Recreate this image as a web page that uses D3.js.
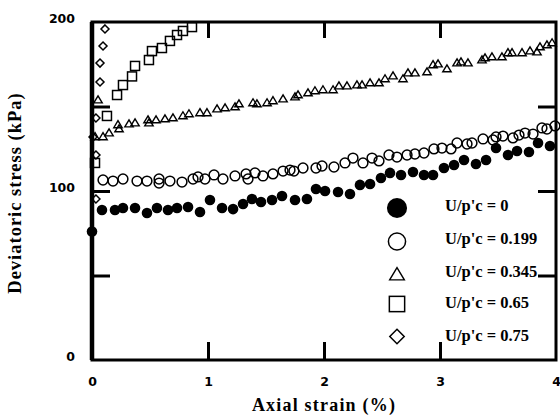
<!DOCTYPE html>
<html><head><meta charset="utf-8">
<script src="https://cdn.jsdelivr.net/npm/d3@7"></script>
<style>body{margin:0;background:#fff}svg{display:block}</style>
</head><body><svg id="c" width="560" height="415"></svg>
<script>
// ---- data (strain %, deviatoric stress kPa) ----
const xTicks = [0, 1, 2, 3, 4];
const yTickLabels = [0, 100, 200];
const yTickMarks = [50, 100, 150];
const xTickMarks = [1, 2, 3];
const seriesNames = ["U/p'c = 0", "U/p'c = 0.199", "U/p'c = 0.345", "U/p'c = 0.65", "U/p'c = 0.75"];

const u0Strain = [0,0.086,0.198,0.267,0.371,0.474,0.560,0.655,0.733,0.828,0.931,1.017,1.121,1.216,1.302,1.379,1.457,1.552,1.638,1.750,1.853,1.931,2.009,2.121,2.224,2.310,2.397,2.491,2.569,2.664,2.767,2.862,2.940,3.034,3.121,3.207,3.310,3.397,3.483,3.586,3.664,3.767,3.845,3.948];
const u0Stress = [76,88.8,88.8,89.9,89.9,87.0,89.9,88.8,89.9,90.5,87.6,94.7,89.9,89.3,92.3,95.3,93.5,94.7,97.0,94.7,95.3,101.2,100.0,99.4,98.2,103.6,104.1,107.7,110.7,109.5,111.2,109.5,109.5,113.6,115.4,118.3,116.0,118.3,125.4,121.3,123.7,123.1,128.4,126.6];

const u199Strain = [0.095,0.181,0.267,0.388,0.474,0.578,0.578,0.672,0.776,0.871,0.914,0.974,1.052,1.129,1.233,1.328,1.345,1.405,1.474,1.560,1.647,1.707,1.741,1.819,1.931,1.983,2.086,2.181,2.250,2.336,2.414,2.474,2.560,2.629,2.716,2.784,2.862,2.948,3.017,3.095,3.147,3.233,3.276,3.371,3.457,3.483,3.543,3.629,3.681,3.733,3.802,3.879,3.922,3.991];
const u199Stress = [106.5,105.9,107.1,105.9,105.9,107.1,104.7,105.9,105.3,107.1,108.3,107.1,109.5,107.1,108.9,110.1,107.1,110.7,108.9,110.1,111.8,112.4,111.8,113.6,113.6,114.8,114.2,116.6,119.5,116.6,119.5,117.8,121.3,120.1,121.3,121.9,122.5,124.9,125.4,124.9,128.4,127.8,128.4,130.8,130.2,132.0,132.5,131.4,133.1,134.3,133.7,137.3,136.7,138.5];

const u345Strain = [0.052,0.026,0.095,0.147,0.224,0.233,0.319,0.371,0.483,0.491,0.552,0.629,0.698,0.784,0.836,0.931,0.991,1.078,1.147,1.233,1.267,1.388,1.422,1.509,1.560,1.647,1.750,1.776,1.862,1.922,1.991,2.078,2.129,2.198,2.284,2.328,2.397,2.474,2.526,2.595,2.681,2.724,2.784,2.888,2.940,2.983,3.060,3.147,3.181,3.241,3.362,3.388,3.448,3.534,3.586,3.621,3.707,3.776,3.836,3.862,3.922,3.966];
const u345Stress = [153.8,132.0,132.0,134.3,139.1,136.7,139.6,140.2,142.0,140.2,142.0,142.6,143.2,144.4,145.6,146.2,146.2,148.5,149.1,149.7,151.5,152.1,151.5,152.1,153.3,154.4,155.6,156.8,158.0,159.2,159.8,159.8,162.1,162.1,162.7,162.7,163.9,163.9,166.3,168.0,166.3,169.8,169.8,170.4,174.6,175.1,172.2,175.7,176.3,175.7,177.5,178.7,179.3,179.3,181.7,181.7,181.7,182.8,182.2,185.2,186.4,187.6];

const u65Strain = [0.026,0.129,0.216,0.267,0.345,0.371,0.491,0.517,0.603,0.672,0.733,0.784,0.862];
const u65Stress = [116.6,144.4,156.8,162.7,167.8,174.0,177.5,182.8,184.6,188.8,192.3,194.7,197.0];

const u75Strain = [0.034,0.034,0.009,0.034,0.069,0.069,0.095,0.112];
const u75Stress = [95.3,121.3,132.0,143.2,164.5,175.7,185.8,195.9];

// ---- layout ----
const svg = d3.select("#c");
const x = d3.scaleLinear().domain([0, 4]).range([92, 556]);
const y = d3.scaleLinear().domain([0, 200]).range([360, 22]);

const zip = (a, b) => a.map((v, i) => [v, b[i]]);
const series = [
  {name: seriesNames[0], shape: "fcircle", pts: zip(u0Strain, u0Stress)},
  {name: seriesNames[1], shape: "circle", pts: zip(u199Strain, u199Stress)},
  {name: seriesNames[2], shape: "triangle", pts: zip(u345Strain, u345Stress)},
  {name: seriesNames[3], shape: "square", pts: zip(u65Strain, u65Stress)},
  {name: seriesNames[4], shape: "diamond", pts: zip(u75Strain, u75Stress)}
];

function drawShape(g, shape, s) {
  if (shape === "fcircle") return g.append("circle").attr("r", 5.3 * s).attr("fill", "#000");
  if (shape === "circle") return g.append("circle").attr("r", 4.9 * s).attr("fill", "none").attr("stroke", "#000").attr("stroke-width", 1.5);
  if (shape === "triangle") {
    const w = 4.2 * s, h = 7 * s;
    return g.append("path").attr("d", `M0,${-h*0.6}L${w},${h*0.4}L${-w},${h*0.4}Z`).attr("fill", "none").attr("stroke", "#000").attr("stroke-width", 1.4);
  }
  if (shape === "square") {
    const a = 4.5 * s;
    return g.append("rect").attr("x", -a).attr("y", -a).attr("width", 2*a).attr("height", 2*a).attr("fill", "none").attr("stroke", "#000").attr("stroke-width", 1.5);
  }
  if (shape === "diamond") {
    const a = 4 * s;
    return g.append("path").attr("d", `M0,${-a}L${a},0L0,${a}L${-a},0Z`).attr("fill", "none").attr("stroke", "#000").attr("stroke-width", 1.5);
  }
}

series.forEach(sr => {
  const g = svg.append("g");
  sr.pts.forEach(p => {
    const pg = g.append("g").attr("transform", `translate(${x(p[0])},${y(p[1])})`);
    drawShape(pg, sr.shape, 1);
  });
});

const tickStyle = sel => { sel.select(".domain").remove(); sel.selectAll("line").attr("stroke", "#000").attr("stroke-width", 3); };
svg.append("g").attr("transform", "translate(0,360)")
  .call(d3.axisBottom(x).tickValues(xTickMarks).tickSizeInner(-18).tickSizeOuter(0).tickFormat(""))
  .call(tickStyle);
svg.append("g").attr("transform", "translate(0,22)")
  .call(d3.axisTop(x).tickValues(xTickMarks).tickSizeInner(-16).tickSizeOuter(0).tickFormat(""))
  .call(tickStyle);
svg.append("g").attr("transform", "translate(92,0)")
  .call(d3.axisLeft(y).tickValues(yTickMarks).tickSizeInner(-18).tickSizeOuter(0).tickFormat(""))
  .call(tickStyle);
svg.append("g").attr("transform", "translate(556,0)")
  .call(d3.axisRight(y).tickValues(yTickMarks).tickSizeInner(-18).tickSizeOuter(0).tickFormat(""))
  .call(tickStyle);

const lblFont = "DejaVu Sans, Arial, sans-serif";
const xl = svg.append("g").attr("transform", "translate(0,360)")
  .call(d3.axisBottom(x).tickValues(xTicks).tickSize(0).tickPadding(17).tickFormat(d3.format("d")));
xl.select(".domain").remove();
xl.selectAll("text").attr("font-family", lblFont).attr("font-weight", "bold").attr("font-size", 12.5).attr("fill", "#000");
const yl = svg.append("g").attr("transform", "translate(92,0)")
  .call(d3.axisLeft(y).tickValues(yTickLabels).tickSize(0).tickPadding(17).tickFormat(d3.format("d")));
yl.select(".domain").remove();
yl.selectAll("text").attr("font-family", lblFont).attr("font-weight", "bold").attr("font-size", 12.5).attr("fill", "#000").attr("dy", "0.0em");

svg.append("rect").attr("x", x(0)).attr("y", y(200)).attr("width", x(4) - x(0)).attr("height", y(0) - y(200))
  .attr("fill", "none").attr("stroke", "#000").attr("stroke-width", 3);
svg.append("line").attr("x1", x(0)).attr("x2", x(0)).attr("y1", y(200)).attr("y2", y(0)).attr("stroke", "#000").attr("stroke-width", 4.5);

const titleFont = "Liberation Serif, Times New Roman, serif";
svg.append("text").attr("x", 324).attr("y", 411).attr("text-anchor", "middle")
  .attr("font-family", titleFont).attr("font-weight", "bold").attr("font-size", 18).attr("letter-spacing", 1.2)
  .text("Axial strain (%)");
svg.append("text").attr("transform", "translate(21,193) rotate(-90)").attr("text-anchor", "middle")
  .attr("font-family", titleFont).attr("font-weight", "bold").attr("font-size", 18.5).attr("letter-spacing", 1)
  .text("Deviatoric stress (kPa)");

const legMarkY = [208, 241.5, 275, 304, 336.5];
const legTextY = [205, 238.5, 271, 302, 335];
const legScale = [1.9, 1.75, 1.75, 1.7, 1.8];
series.forEach((sr, i) => {
  const g = svg.append("g").attr("transform", `translate(397,${legMarkY[i]})`);
  drawShape(g, sr.shape, legScale[i]);
  svg.append("text").attr("x", 445).attr("y", legTextY[i]).attr("dominant-baseline", "central")
    .attr("font-family", titleFont).attr("font-weight", "bold").attr("font-size", 16.5)
    .text(sr.name);
});
</script></body></html>
